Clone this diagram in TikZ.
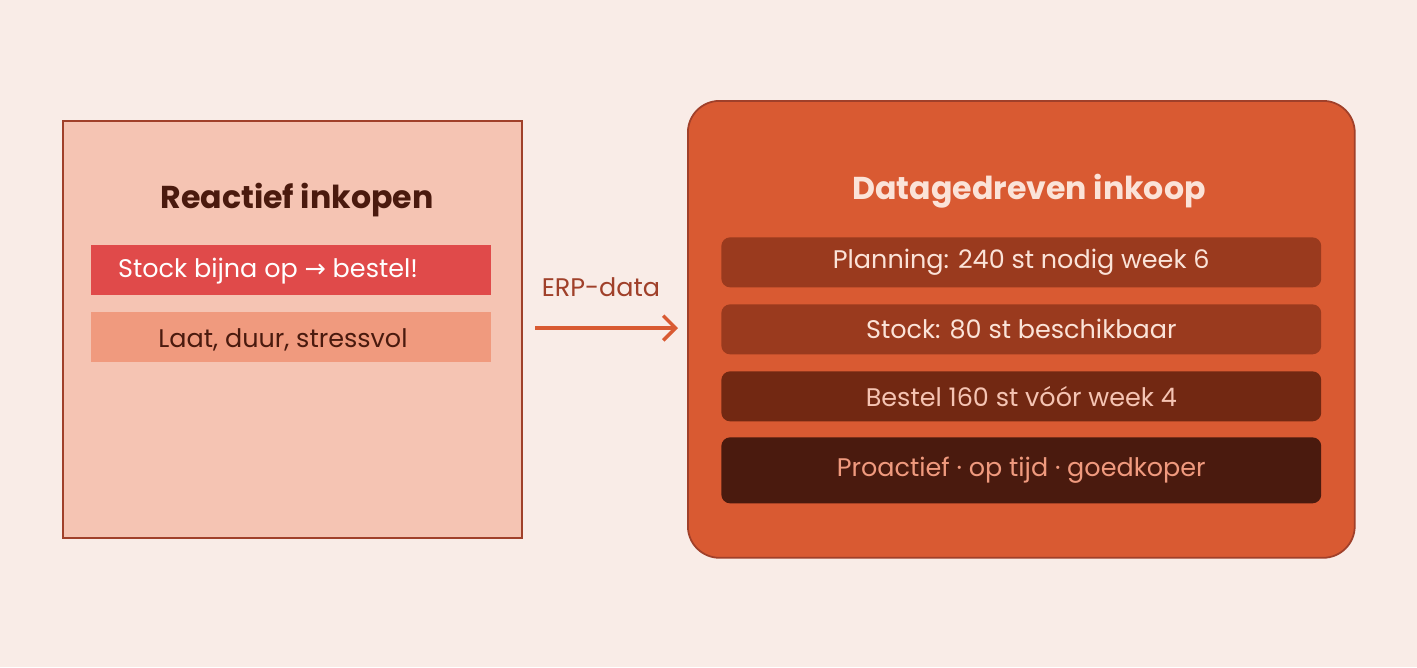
\documentclass[tikz,border=0pt]{standalone}
\usepackage{fontspec}
\setmainfont{Poppins}
\usetikzlibrary{positioning,arrows.meta}
\definecolor{PageBg}{HTML}{F9ECE7}
\definecolor{PaleBox}{HTML}{F5C4B3}
\definecolor{EdgeBrown}{HTML}{A0402A}
\definecolor{DeepBrown}{HTML}{4A1A0E}
\definecolor{AlarmRed}{HTML}{E04A4A}
\definecolor{Salmon}{HTML}{F09A7E}
\definecolor{Rust}{HTML}{D95A32}
\definecolor{RustDark}{HTML}{9A3A1E}
\definecolor{RustDeeper}{HTML}{722812}
\definecolor{Cream}{HTML}{FBE3D8}
\tikzset{
    panel/.style={draw=EdgeBrown, line width=1pt, anchor=north west, inner sep=0},
    title/.style={anchor=center, font=\fontsize{18}{20}\selectfont\bfseries},
    bar/.style={anchor=north west, inner sep=0, minimum width=12cm, minimum height=1cm},
    rbar/.style={bar, rounded corners=5pt},
    bartext/.style={anchor=center, font=\fontsize{14.5}{16}\selectfont},
}
\begin{document}
\begin{tikzpicture}[x=0.02cm, y=-0.02cm]
        \fill[PageBg] (0,0) rectangle (1417,667);
        %
        % Left panel
        \node[panel, fill=PaleBox, minimum width=9.18cm, minimum height=8.34cm] (Lbox) at (62,120) {};
        \node[title, text=DeepBrown] (Ltitle) at (297,200) {Reactief inkopen};
        \node[bar, fill=AlarmRed, minimum width=8cm] (Lbar1) at (91,245) {};
        \node[bartext, anchor=west, text=white] (Lbar1.T) at (112,271) {Stock bijna op {\fontspec{DejaVu Sans}→} bestel!};
        \node[bar, fill=Salmon, minimum width=8cm] (Lbar2) at (91,312) {};
        \node[bartext, text=DeepBrown] (Lbar2.T) at (283,340) {Laat, duur, stressvol};
        %
        % Arrow
        \coordinate (Astart) at (535,328);
        \coordinate (Aend) at (678,328);
        \draw[Rust, line width=2pt, -{Straight Barb[length=7pt,width=14pt]}] (Astart) -- (Aend);
        \node[bartext, text=EdgeBrown] (Alabel) at (601,287) {ERP-data};
        %
        % Right panel
        \node[panel, fill=Rust, rounded corners=18pt, minimum width=13.34cm, minimum height=9.14cm] (Rbox) at (687,100) {};
        \node[title, text=Cream] (Rtitle) at (1029,191) {Datagedreven inkoop};
        \node[rbar, fill=RustDark] (Rbar1) at (721,237) {};
        \node[bartext, text=Cream] (Rbar1.T) at (Rbar1.center) {Planning: 240 st nodig week 6};
        \node[rbar, fill=RustDark] (Rbar2) at (721,304) {};
        \node[bartext, text=Cream] (Rbar2.T) at (Rbar2.center) {Stock: 80 st beschikbaar};
        \node[rbar, fill=RustDeeper] (Rbar3) at (721,371) {};
        \node[bartext, text=PaleBox] (Rbar3.T) at (Rbar3.center) {Bestel 160 st vóór week 4};
        \node[rbar, fill=DeepBrown, minimum height=1.32cm] (Rbar4) at (721,437) {};
        \node[bartext, text=Salmon] (Rbar4.T) at (Rbar4.center) {Proactief · op tijd · goedkoper};
\end{tikzpicture}
\end{document}
